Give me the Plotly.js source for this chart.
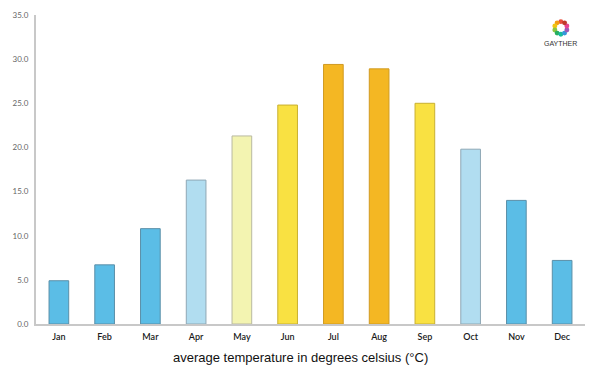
<!DOCTYPE html>
<html><head><meta charset="utf-8">
<script src="https://cdn.plot.ly/plotly-3.0.1.min.js"></script>
<style>html,body{margin:0;padding:0;background:#fff}#chart{width:600px;height:375px}</style>
</head><body><div id="chart"></div>
<script>
const months = ["Jan","Feb","Mar","Apr","May","Jun","Jul","Aug","Sep","Oct","Nov","Dec"];
const temps = [4.9, 6.7, 10.8, 16.3, 21.3, 24.8, 29.4, 28.9, 25.0, 19.8, 14.0, 7.2];
const barColors = ["#5bbde6","#5bbde6","#5bbde6","#b1ddf0","#f3f4b1","#f9e142","#f4b723","#f4b723","#f9e142","#b1ddf0","#5bbde6","#5bbde6"];
const lineColors = ["#5a8fa8","#5a8fa8","#5a8fa8","#8fa8b5","#b9b9a0","#c9b030","#d09a20","#d09a20","#c9b030","#8fa8b5","#5a8fa8","#5a8fa8"];
const yTicks = [0,5,10,15,20,25,30,35];
const xTitle = "average temperature in degrees celsius (°C)";
const logoText = "GAYTHER";

const logoColors = ["#e94e3c","#f39c12","#f1c40f","#8cc63f","#27ae60","#1abc9c","#3498db","#9b59b6","#e84393","#c0392b"];
const shapes = logoColors.map((c,i)=>{
  const a = i/logoColors.length*2*Math.PI + Math.PI/2;
  const cx = 0.956 + 0.0115*Math.cos(a), cy = 0.958 + 0.0205*Math.sin(a);
  return {type:"circle", xref:"paper", yref:"paper", x0:cx-0.0045, x1:cx+0.0045, y0:cy-0.008, y1:cy+0.008, fillcolor:c, line:{width:0}};
});

Plotly.newPlot("chart", [{
  type:"bar", x:months, y:temps, width:0.43,
  marker:{color:barColors, line:{color:lineColors, width:1}},
  hoverinfo:"none"
}], {
  width:600, height:375,
  margin:{l:36, r:15, t:15, b:51},
  paper_bgcolor:"#fff", plot_bgcolor:"#fff",
  showlegend:false,
  font:{family:"Century Gothic, URW Gothic, Lato, sans-serif"},
  xaxis:{type:"category", showgrid:false, zeroline:false, showline:true, linecolor:"#c8c8c8", linewidth:2,
    ticks:"", ticklabelstandoff:3, tickfont:{size:9, color:"#1a1a1a", weight:600}},
  yaxis:{range:[0,35], tickvals:yTicks, tickformat:".1f", showgrid:false, zeroline:false,
    showline:true, linecolor:"#c8c8c8", linewidth:2, ticks:"", ticklabelstandoff:4, tickfont:{size:8, color:"#666"}},
  shapes:shapes,
  annotations:[
    {xref:"paper", yref:"paper", x:0.956, y:0.909, xanchor:"center", yanchor:"middle", text:logoText, showarrow:false,
      font:{size:7, color:"#333", family:"Liberation Sans, Arial, sans-serif"}},
    {xref:"paper", yref:"paper", x:0.481, y:-0.107, xanchor:"center", yanchor:"middle", text:xTitle, showarrow:false,
      font:{size:13, color:"#111", family:"Liberation Sans, Arial, sans-serif"}}
  ]
}, {displayModeBar:false, staticPlot:true});
</script></body></html>
